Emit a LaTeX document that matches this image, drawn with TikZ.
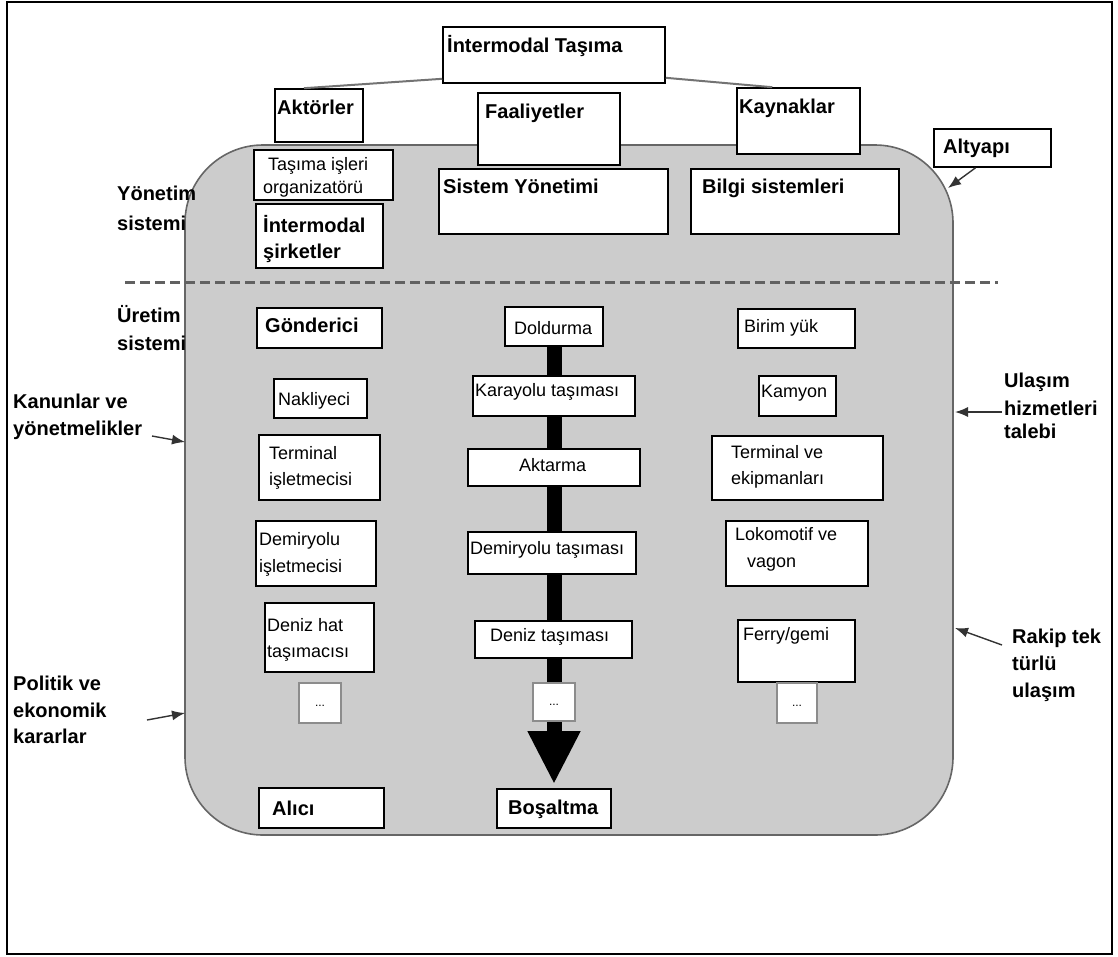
\documentclass[tikz,border=0pt]{standalone}
\usepackage{fontspec}
\setmainfont{Liberation Sans}
\usetikzlibrary{arrows.meta,fit}
\pgfdeclarelayer{bg}
\pgfdeclarelayer{mid}
\pgfsetlayers{bg,mid,main}
\begin{document}
\begin{tikzpicture}[x=1pt,y=-1pt,
  box/.style={draw=black, line width=1.6pt, fill=white, inner sep=0pt},
  thickbox/.style={draw=black, line width=2.6pt, fill=white, inner sep=0pt},
  dotbox/.style={draw=black!45, line width=1.4pt, fill=white, inner sep=0pt},
  region/.style={draw=black!60, line width=1.6pt, fill=black!20, rounded corners=78pt, inner sep=0pt},
  bt/.style={font=\fontsize{20}{24}\selectfont\bfseries, inner sep=0pt, anchor=base west},
  rt/.style={font=\fontsize{18}{22}\selectfont, inner sep=0pt, anchor=base west},
  dt/.style={font=\fontsize{12}{14}\selectfont, inner sep=0pt},
  pointer/.style={draw=black!80, line width=1.4pt, -{Latex[length=13pt,width=10pt]}},
  conn/.style={draw=black!55, line width=2pt},
  divider/.style={draw=black!62, line width=3pt, dash pattern=on 10pt off 5pt},
  flow/.style={draw=black, line width=15pt, -{Triangle[length=53pt,width=49pt]}, shorten >=4pt}]
\useasboundingbox (0,0) rectangle (1118,956);
\draw[line width=2pt] (7,2) rectangle (1112,954);

% gray region
\begin{pgfonlayer}{bg}
\node[region, fit={(185,145) (953,835)}] (reg) {};
\draw[divider] (125,282) -- (998,282);
\end{pgfonlayer}

% top boxes
\node[box, fit={(443,27) (665,83)}] (top) {};
\node[bt] (ttop) at (447,52) {İntermodal Taşıma};
\node[box, fit={(275,89) (363,142)}] (akt) {};
\node[bt] (takt) at (277,114) {Aktörler};
\node[box, fit={(478,93) (620,165)}] (faal) {};
\node[bt] (tfaal) at (485,118) {Faaliyetler};
\node[box, fit={(737,88) (860,154)}] (kayn) {};
\node[bt] (tkayn) at (739,113) {Kaynaklar};
\node[box, fit={(934,129) (1051,167)}] (alt) {};
\node[bt] (talt) at (943,153) {Altyapı};

\draw[conn] ([yshift=5pt]top.south west) -- ([xshift=-15pt]akt.north);
\draw[conn] ([yshift=6pt]top.south east) -- ([xshift=36pt]kayn.north west);

% management system
\node[box, fit={(254,150) (393,200)}] (tis) {};
\node[rt] (ttis1) at (268,170) {Taşıma işleri};
\node[rt] (ttis2) at (263,193) {organizatörü};
\node[box, fit={(256,204) (383,268)}] (ims) {};
\node[bt] (tims1) at (263,232) {İntermodal};
\node[bt] (tims2) at (263,258) {şirketler};
\node[box, fit={(439,169) (668,234)}] (sys) {};
\node[bt] (tsys) at (443,193) {Sistem Yönetimi};
\node[box, fit={(691,169) (899,234)}] (bilgi) {};
\node[bt] (tbilgi) at (702,193) {Bilgi sistemleri};

% left column
\node[box, fit={(257,308) (382,348)}] (gond) {};
\node[bt] (tgond) at (265,332) {Gönderici};
\node[box, fit={(274,379) (367,418)}] (nak) {};
\node[rt] (tnak) at (278,405) {Nakliyeci};
\node[box, fit={(259,435) (380,500)}] (term) {};
\node[rt] (tterm1) at (269,459) {Terminal};
\node[rt] (tterm2) at (269,485) {işletmecisi};
\node[box, fit={(256,521) (376,586)}] (demi) {};
\node[rt] (tdemi1) at (259,545) {Demiryolu};
\node[rt] (tdemi2) at (259,572) {işletmecisi};
\node[box, fit={(265,603) (374,672)}] (deniz) {};
\node[rt] (tdeniz1) at (267,631) {Deniz hat};
\node[rt] (tdeniz2) at (267,657) {taşımacısı};
\node[dotbox, fit={(299,683) (341,723)}] (dots1) {};
\node[dt] (tdots1) at ([yshift=-3pt]dots1.center) {...};
\node[box, fit={(259,788) (384,828)}] (alici) {};
\node[bt] (talici) at (272,815) {Alıcı};

% middle column
\node[box, fit={(505,307) (603,346)}] (dold) {};
\node[rt] (tdold) at (514,334) {Doldurma};
\node[box, fit={(473,376) (635,416)}] (kara) {};
\node[rt] (tkara) at (475,396) {Karayolu taşıması};
\node[thickbox, fit={(468,449) (640,486)}] (akta) {};
\node[rt] (takta) at (519,471) {Aktarma};
\node[box, fit={(468,532) (636,574)}] (demt) {};
\node[rt] (tdemt) at (470,554) {Demiryolu taşıması};
\node[box, fit={(475,621) (632,658)}] (dent) {};
\node[rt] (tdent) at (490,641) {Deniz taşıması};
\node[dotbox, fit={(533,683) (575,721)}] (dots2) {};
\node[dt] (tdots2) at ([yshift=-3pt]dots2.center) {...};
\node[box, fit={(497,789) (611,828)}] (bos) {};
\node[bt] (tbos) at (508,814) {Boşaltma};

\begin{pgfonlayer}{mid}
\draw[flow] (dold.south) -- (bos.north);
\end{pgfonlayer}

% right column
\node[box, fit={(738,309) (855,348)}] (birim) {};
\node[rt] (tbirim) at (744,332) {Birim yük};
\node[box, fit={(759,376) (836,416)}] (kam) {};
\node[rt] (tkam) at (761,397) {Kamyon};
\node[box, fit={(712,436) (883,500)}] (tek) {};
\node[rt] (ttek1) at (731,458) {Terminal ve};
\node[rt] (ttek2) at (731,484) {ekipmanları};
\node[box, fit={(726,521) (868,586)}] (lok) {};
\node[rt] (tlok1) at (735,540) {Lokomotif ve};
\node[rt] (tlok2) at (747,567) {vagon};
\node[box, fit={(738,620) (855,682)}] (ferry) {};
\node[rt] (tferry) at (743,640) {Ferry/gemi};
\node[dotbox, fit={(777,683) (817,723)}] (dots3) {};
\node[dt] (tdots3) at ([yshift=-3pt]dots3.center) {...};

% side labels
\node[bt] (yon1) at (117,200) {Yönetim};
\node[bt] (yon2) at (117,230) {sistemi};
\node[bt] (ure1) at (117,322) {Üretim};
\node[bt] (ure2) at (117,350) {sistemi};
\node[bt] (kan1) at (13,408) {Kanunlar ve};
\node[bt] (kan2) at (13,435) {yönetmelikler};
\node[bt] (pol1) at (13,690) {Politik ve};
\node[bt] (pol2) at (13,717) {ekonomik};
\node[bt] (pol3) at (13,743) {kararlar};
\node[bt] (ula1) at (1004,387) {Ulaşım};
\node[bt] (ula2) at (1004,415) {hizmetleri};
\node[bt] (ula3) at (1004,438) {talebi};
\node[bt] (rak1) at (1012,643) {Rakip tek};
\node[bt] (rak2) at (1012,670) {türlü};
\node[bt] (rak3) at (1012,697) {ulaşım};

% pointers
\coordinate (kanS) at (152,436);
\coordinate (kanE) at (185,442);
\coordinate (polS) at (147,720);
\coordinate (polE) at (185,713);
\coordinate (ulaS) at (1002,412);
\coordinate (ulaE) at (955,412);
\coordinate (rakS) at (1002,645);
\coordinate (rakE) at (955,628);
\coordinate (altE) at (948,188);
\draw[pointer] (kanS) -- (kanE);
\draw[pointer] (polS) -- (polE);
\draw[pointer] (ulaS) -- (ulaE);
\draw[pointer] (rakS) -- (rakE);
\draw[pointer] ([xshift=-17pt]alt.south) -- (altE);
\end{tikzpicture}
\end{document}
